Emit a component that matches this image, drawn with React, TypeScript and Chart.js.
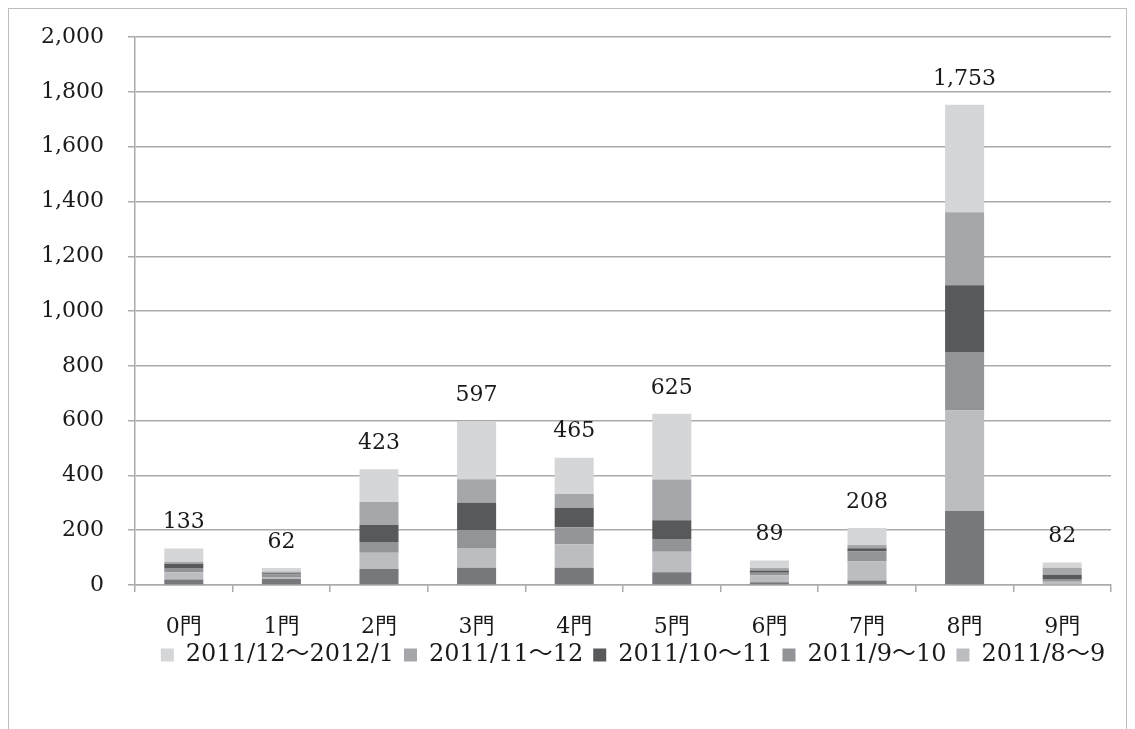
import React, { useEffect, useRef } from "react";
import { Chart, registerables } from "chart.js";

Chart.register(...registerables);

const categories = ["0門", "1門", "2門", "3門", "4門", "5門", "6門", "7門", "8門", "9門"];
const seriesLabels = ["2011/7～8", "2011/8～9", "2011/9～10", "2011/10～11", "2011/11～12", "2011/12～2012/1"];
const s7to8 = [20, 22, 58, 63, 63, 47, 10, 16, 270, 3];
const s8to9 = [27, 7, 60, 72, 86, 74, 25, 70, 367, 9];
const s9to10 = [15, 9, 39, 64, 62, 47, 10, 36, 214, 10];
const s10to11 = [16, 5, 62, 101, 71, 68, 8, 12, 243, 15];
const s11to12 = [7, 6, 84, 86, 50, 149, 9, 12, 267, 26];
const s12to1 = [48, 13, 120, 211, 133, 240, 27, 62, 392, 19];
const totals = [133, 62, 423, 597, 465, 625, 89, 208, 1753, 82];
const seriesColors = ["#77787b", "#bcbdc0", "#939497", "#58595b", "#a6a7aa", "#d5d6d8"];

const FONT = "'DejaVu Serif', 'Noto Sans CJK JP', serif";

const totalsPlugin = {
  id: "totalsPlugin",
  afterDatasetsDraw(chart: any) {
    const { ctx, scales } = chart;
    const x = scales.x;
    const y = scales.y;
    ctx.save();
    ctx.font = `22px ${FONT}`;
    ctx.fillStyle = "#1a1a1a";
    ctx.textAlign = "center";
    ctx.textBaseline = "middle";
    totals.forEach((t, i) => {
      const px = x.getPixelForValue(i);
      const py = y.getPixelForValue(t);
      ctx.fillText(t.toLocaleString("en-US"), px, py - 26);
    });
    ctx.restore();
  },
};

const legendShift = {
  id: "legendShift",
  afterLayout(chart: any) {
    const lg = chart.legend;
    if (lg) {
      lg.top -= 8;
      lg.bottom -= 8;
      lg.left += 10;
      lg.right += 10;
    }
  },
};

export default function App() {
  const ref = useRef<HTMLCanvasElement | null>(null);
  useEffect(() => {
    if (!ref.current) return;
    const data = [s7to8, s8to9, s9to10, s10to11, s11to12, s12to1];
    const chart = new Chart(ref.current, {
      type: "bar",
      data: {
        labels: categories,
        datasets: data.map((d, i) => ({
          label: seriesLabels[i],
          data: d,
          backgroundColor: seriesColors[i],
          borderWidth: 0,
          barPercentage: 0.4,
          categoryPercentage: 1,
        })),
      },
      options: {
        animation: false,
        responsive: false,
        maintainAspectRatio: false,
        layout: { padding: { left: 0, right: 15, top: 0, bottom: 44 } },
        plugins: {
          tooltip: { enabled: false },
          legend: {
            position: "bottom",
            fullSize: false,
            reverse: true,
            labels: {
              filter: (item: any) => item.datasetIndex !== 0,
              font: { family: FONT, size: 24 },
              color: "#1a1a1a",
              boxWidth: 13,
              boxHeight: 13,
              padding: 10,
            },
          },
        },
        scales: {
          x: {
            stacked: true,
            grid: { drawOnChartArea: false, drawTicks: true, tickLength: 7, color: "#aaaaaa", lineWidth: 1.5, offset: true },
            border: { display: true, color: "#aaaaaa", width: 1.5 },
            ticks: { font: { family: FONT, size: 22 }, color: "#1a1a1a", padding: 22 },
            afterFit: (s: any) => { s.height = 56; },
          },
          y: {
            stacked: true,
            min: 0,
            max: 2000,
            grid: { color: "#aaaaaa", lineWidth: 1.5, tickLength: 7 },
            border: { display: true, color: "#aaaaaa", width: 1.5 },
            ticks: {
              stepSize: 200,
              font: { family: FONT, size: 22 },
              color: "#1a1a1a",
              padding: 24,
              callback: (v: any) => Number(v).toLocaleString("en-US"),
            },
            afterFit: (s: any) => { s.width = 126; },
          },
        },
      },
      plugins: [totalsPlugin, legendShift],
    });
    return () => chart.destroy();
  }, []);
  return (
    <div style={{ width: 1119, height: 740, boxSizing: "border-box", border: "1px solid #bdbdbd", background: "#fff" }}>
      <canvas ref={ref} width={1117} height={729} style={{ display: "block", position: "relative", top: -9 }} />
    </div>
  );
}
